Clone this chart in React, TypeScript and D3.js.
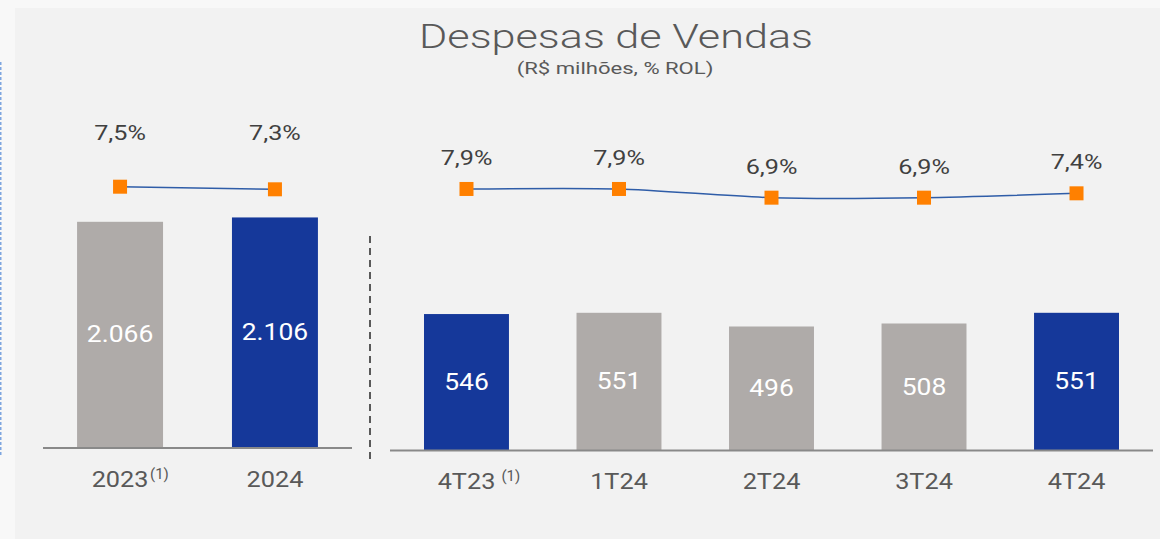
import React from "react";
import * as d3 from "d3";

// ---- data ----
const annualCats = ["2023", "2024"];
const annualNotes = ["(1)", ""];
const annualValues = [2066, 2106];
const annualPct = [7.5, 7.3];
const annualLabels = ["2.066", "2.106"];
const annualHighlight = [false, true];

const quarterCats = ["4T23", "1T24", "2T24", "3T24", "4T24"];
const quarterNotes = ["(1)", "", "", "", ""];
const quarterValues = [546, 551, 496, 508, 551];
const quarterPct = [7.9, 7.9, 6.9, 6.9, 7.4];
const quarterHighlight = [true, false, false, false, true];

const title = "Despesas de Vendas";
const subtitle = "(R$ milhões, % ROL)";

const W = 1160;
const H = 539;
const BLUE = "#15389A";
const GRAY = "#AFABA9";
const ORANGE = "#FF8000";
const LINE = "#2F5DA8";
const TXT = "#595959";
const FONT = "Roboto, 'Noto Sans', sans-serif";

const fmtPct = (v: number) => v.toFixed(1).replace(".", ",") + "%";

function T(props: {
  x: number; y: number; sx?: number; size: number; fill: string;
  anchor?: string; baseline?: string; weight?: number; children: any;
}) {
  const { x, y, sx = 1.15, size, fill, anchor = "middle", baseline, weight = 400, children } = props;
  return (
    <text
      transform={`translate(${x},${y}) scale(${sx},1)`}
      textAnchor={anchor}
      dominantBaseline={baseline}
      fontFamily={FONT}
      fontSize={size}
      fontWeight={weight}
      fill={fill}
    >
      {children}
    </text>
  );
}

export default function App() {
  // left panel scales
  const xL = d3.scaleBand<string>().domain(annualCats).range([43, 352]).paddingInner(0.445).paddingOuter(0.22);
  const yL = d3.scaleLinear().domain([0, 2500]).range([447, 174.5]);
  const pL = d3.scaleLinear().domain([7, 8]).range([193.2, 180.2]);
  // right panel scales
  const xR = d3.scaleBand<string>().domain(quarterCats).range([390, 1153]).paddingInner(0.443).paddingOuter(0.223);
  const yR = d3.scaleLinear().domain([0, 600]).range([450, 300.6]);
  const pR = d3.scaleLinear().domain([6, 8]).range([205.5, 188.1]);

  const bwL = xL.bandwidth();
  const bwR = xR.bandwidth();

  const lineL = d3.line<number>()
    .x((_, i) => (xL(annualCats[i]) as number) + bwL / 2)
    .y((v) => pL(v));
  const lineR = d3.line<number>()
    .x((_, i) => (xR(quarterCats[i]) as number) + bwR / 2)
    .y((v) => pR(v))
    .curve(d3.curveCardinal.tension(0.3));

  const mk = 14;

  return (
    <svg width={W} height={H} style={{ position: "absolute", left: 0, top: 0 }}>
      <rect x={0} y={0} width={W} height={H} fill="#F8F8F8" />
      <rect x={15} y={8} width={W - 15} height={H - 8} fill="#F2F2F2" />
      <line x1={0.75} x2={0.75} y1={62} y2={456} stroke="#7EA6E0" strokeWidth={1.5} strokeDasharray="3,2" />

      {/* title */}
      <T x={616} y={48} size={34} fill={TXT} sx={1.27} weight={300}>{title}</T>
      <T x={615} y={74} size={16} fill={TXT} sx={1.38}>{subtitle}</T>

      {/* left panel bars */}
      {annualCats.map((c, i) => {
        const x = xL(c) as number;
        const y = yL(annualValues[i]);
        return (
          <g key={c}>
            <rect x={x} y={y} width={bwL} height={yL(0) - y} fill={annualHighlight[i] ? BLUE : GRAY} />
            <T x={x + bwL / 2} y={(y + yL(0)) / 2} size={23} fill="#FFFFFF" baseline="central">{annualLabels[i]}</T>
            <T x={x + bwL / 2} y={487} size={22} fill={TXT}>{c}</T>
            {annualNotes[i] && <T x={x + bwL / 2 + 30} y={479} size={15} fill={TXT} anchor="start" sx={1}>{annualNotes[i]}</T>}
            <T x={x + bwL / 2} y={140} size={21} fill="#404040" sx={1.2}>{fmtPct(annualPct[i])}</T>
          </g>
        );
      })}
      <line x1={43} x2={352} y1={448} y2={448} stroke="#898989" strokeWidth={2} />
      <path d={lineL(annualPct) || ""} fill="none" stroke={LINE} strokeWidth={1.5} />
      {annualPct.map((v, i) => (
        <rect key={i} x={(xL(annualCats[i]) as number) + bwL / 2 - mk / 2} y={pL(v) - mk / 2} width={mk} height={mk} fill={ORANGE} />
      ))}

      {/* separator */}
      <line x1={370} x2={370} y1={236} y2={463} stroke={TXT} strokeWidth={2} strokeDasharray="7,5" />

      {/* right panel bars */}
      {quarterCats.map((c, i) => {
        const x = xR(c) as number;
        const y = yR(quarterValues[i]);
        return (
          <g key={c}>
            <rect x={x} y={y} width={bwR} height={yR(0) - y} fill={quarterHighlight[i] ? BLUE : GRAY} />
            <T x={x + bwR / 2} y={(y + yR(0)) / 2} size={23} fill="#FFFFFF" baseline="central">{String(quarterValues[i])}</T>
            <T x={x + bwR / 2} y={489} size={22} fill={TXT}>{c}</T>
            {quarterNotes[i] && <T x={x + bwR / 2 + 35} y={481} size={15} fill={TXT} anchor="start" sx={1}>{quarterNotes[i]}</T>}
            <T x={x + bwR / 2} y={pR(quarterPct[i]) - 24} size={21} fill="#404040" sx={1.2}>{fmtPct(quarterPct[i])}</T>
          </g>
        );
      })}
      <line x1={390} x2={1153} y1={450.5} y2={450.5} stroke="#898989" strokeWidth={2} />
      <path d={lineR(quarterPct) || ""} fill="none" stroke={LINE} strokeWidth={1.5} />
      {quarterPct.map((v, i) => (
        <rect key={i} x={(xR(quarterCats[i]) as number) + bwR / 2 - mk / 2} y={pR(v) - mk / 2} width={mk} height={mk} fill={ORANGE} />
      ))}
    </svg>
  );
}
